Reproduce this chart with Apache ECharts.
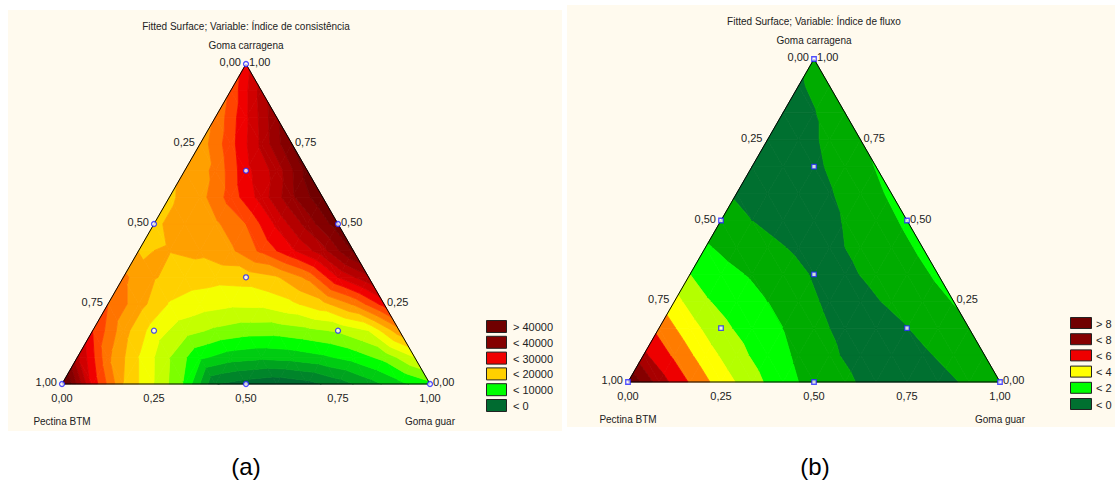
<!DOCTYPE html>
<html>
<head>
<meta charset="utf-8">
<script src="https://cdn.jsdelivr.net/npm/echarts@6/dist/echarts.min.js"></script>
<style>
html,body{margin:0;padding:0;background:#fff;}
#chart{width:1115px;height:483px;}
</style>
</head>
<body>
<div id="chart"></div>
<script>
// ---------------- DATA ----------------
const titleA = 'Fitted Surface; Variable: Índice de consistência';
const titleB = 'Fitted Surface; Variable: Índice de fluxo';
const topName = 'Goma carragena';
const leftName = 'Pectina BTM';
const rightName = 'Goma guar';
const captions = ['(a)', '(b)'];

const tickValues = [0, 0.25, 0.5, 0.75, 1];
const tickLabels = ['0,00', '0,25', '0,50', '0,75', '1,00'];

// design points: [Goma guar, Goma carragena] fractions (Pectina = rest)
const designPoints = [
  [0, 0], [1, 0], [0, 1],
  [0.5, 0], [0, 0.5], [0.5, 0.5],
  [1/3, 1/3],
  [1/6, 1/6], [2/3, 1/6], [1/6, 2/3]
];

// contour levels
const levelsA = [0, 2500, 5000, 7500, 10000, 12500, 15000, 17500, 20000,
                 22500, 25000, 27500, 30000, 32500, 35000, 37500, 40000];
const levelsB = [0, 1, 2, 3, 4, 5, 6, 7, 8];

const legendLabelsA = ['> 40000', '< 40000', '< 30000', '< 20000', '< 10000', '< 0'];
const legendBandsA  = [17, 16, 12, 8, 4, 0];
const legendLabelsB = ['> 8', '< 8', '< 6', '< 4', '< 2', '< 0'];
const legendBandsB  = [9, 8, 6, 4, 2, 0];

// surface values on a 12-step ternary grid
// row j: Goma carragena = j/12 ; entry i: Goma guar = i/12
const surfaceA = [
  [45000, 29000, 20000, 15000, 9700, 100, -1200, -2000, -1000, 1200, 3800, 6700, 9300],
  [33000, 23000, 17500, 12600, 8000, 6200, 5600, 6000, 7000, 8500, 10800, 15000],
  [27500, 21000, 16300, 13500, 12000, 11100, 11000, 11800, 12800, 15000, 21500],
  [25000, 21000, 17300, 16200, 15500, 15600, 17000, 19200, 22800, 28500],
  [23000, 20200, 18700, 18300, 18500, 19700, 23000, 30000, 34500],
  [19900, 20100, 20600, 22000, 25500, 29500, 34000, 40500],
  [19600, 21000, 22000, 25000, 30500, 36000, 41500],
  [19600, 21500, 26000, 31000, 37000, 42000],
  [20500, 23000, 29200, 33500, 41000],
  [21000, 26500, 33000, 40200],
  [23000, 29500, 37000],
  [25500, 33500],
  [29000]
];

const surfaceB = [
  [9, 6.5, 4.9, 3.5, 2.4, 1.3, 0.7, 0.15, -0.3, -0.35, -0.2, 0.1, 0.5],
  [6.2, 4.8, 3.45, 2.35, 1.45, 0.85, 0.12, -0.25, -0.3, -0.1, 0.2, 0.65],
  [4.7, 3.4, 2.25, 1.55, 1.0, 0.15, -0.15, -0.25, -0.02, 0.3, 0.85],
  [3.3, 2.1, 1.5, 1.0, 0.2, -0.1, -0.15, 0.08, 0.35, 1.05],
  [2.0, 1.3, 0.9, 0.25, -0.05, -0.1, 0.12, 0.4, 1.2],
  [1.1, 0.65, 0.15, -0.1, -0.1, 0.1, 0.4, 1.25],
  [0.4, 0.0, -0.25, -0.15, 0.02, 0.35, 1.25],
  [-0.1, -0.3, -0.2, -0.05, 0.3, 1.2],
  [-0.3, -0.25, -0.1, 0.2, 1.05],
  [-0.35, -0.2, 0.1, 0.85],
  [-0.25, -0.05, 0.6],
  [-0.1, 0.35],
  [0.2]
];

// ---------------- STYLE ----------------
const colorsA = ['#006b30', '#00852a', '#00a31f', '#00cc12', '#00ff00', '#7cff00', '#c4ff00', '#f4ff00',
                 '#ffd000', '#ffa000', '#ff7400', '#ff4400', '#f00000', '#d00000', '#b40000', '#9a0000',
                 '#840000', '#700000'];
const colorsB = ['#007030', '#00ac00', '#00ff00', '#b4ff00', '#ffff00', '#ff7c00', '#ee0000', '#a80000',
                 '#850000', '#700000'];

const FONT = '"Liberation Sans", Arial, sans-serif';
const TXT = '#222';
const SQ = Math.sqrt(3) / 2;

function toXY(g, c) { return [g + c / 2, c * SQ]; }

const panels = [
  { title: titleA, surface: surfaceA, levels: levelsA, colors: colorsA,
    legendLabels: legendLabelsA, legendBands: legendBandsA,
    grid: { left: 62, top: 64, width: 368, height: 320 },
    bg: { x: 8, y: 10, w: 554, h: 421 },
    legend: { x: 486, y: 320, w: 20, h: 12, step: 15.8, tx: 513 },
    caption: captions[0], capX: 246, marker: 'circle', markerSize: 5 },
  { title: titleB, surface: surfaceB, levels: levelsB, colors: colorsB,
    legendLabels: legendLabelsB, legendBands: legendBandsB,
    grid: { left: 628, top: 59, width: 372, height: 323 },
    bg: { x: 567, y: 5, w: 548, h: 422 },
    legend: { x: 1070, y: 317, w: 21, h: 11, step: 16.2, tx: 1096 },
    caption: captions[1], capX: 815, marker: 'rect', markerSize: 4.5 }
];

function buildTris(surface) {
  const n = surface.length - 1;
  const tris = [];
  for (let j = 0; j < n; j++) {
    for (let i = 0; i < n - j; i++) {
      tris.push([[i, j], [i + 1, j], [i, j + 1]]);
      if (i + j <= n - 2) tris.push([[i + 1, j], [i + 1, j + 1], [i, j + 1]]);
    }
  }
  return tris;
}

function clipPoly(poly, t, keepAbove) {
  const out = [];
  const inside = q => keepAbove ? q.v >= t : q.v <= t;
  for (let k = 0; k < poly.length; k++) {
    const a = poly[k], b = poly[(k + 1) % poly.length];
    const ia = inside(a), ib = inside(b);
    if (ia) out.push(a);
    if (ia !== ib) {
      const f = (t - a.v) / (b.v - a.v);
      out.push({ x: a.x + f * (b.x - a.x), y: a.y + f * (b.y - a.y), v: t });
    }
  }
  return out;
}

function contourRender(panel, tris) {
  const n = panel.surface.length - 1;
  const L = panel.levels;
  return function (params, api) {
    const tri = tris[params.dataIndex];
    const verts = tri.map(([i, j]) => {
      const p = toXY(i / n, j / n);
      return { x: p[0], y: p[1], v: panel.surface[j][i] };
    });
    const vs = verts.map(q => q.v);
    const vmin = Math.min.apply(null, vs), vmax = Math.max.apply(null, vs);
    const children = [];
    for (let b = 0; b <= L.length; b++) {
      const lo = b === 0 ? -Infinity : L[b - 1];
      const hi = b === L.length ? Infinity : L[b];
      if (vmax < lo || vmin >= hi) continue;
      let poly = verts;
      if (lo > -Infinity) poly = clipPoly(poly, lo, true);
      if (poly.length >= 3 && hi < Infinity) poly = clipPoly(poly, hi, false);
      if (poly.length < 3) continue;
      const pts = poly.map(q => api.coord([q.x, q.y]));
      children.push({ type: 'polygon', shape: { points: pts },
        style: { fill: panel.colors[b], stroke: panel.colors[b], lineWidth: 0.8 } });
    }
    return { type: 'group', children: children };
  };
}

function txt(x, y, text, align, size, vAlign) {
  return { type: 'text', x: x, y: y, silent: true,
    style: { text: text, fill: TXT, font: size + 'px ' + FONT,
      align: align, textAlign: align, verticalAlign: vAlign || 'middle', textVerticalAlign: vAlign || 'middle' } };
}

function labelRender(panel) {
  return function (params, api) {
    const ch = [];
    tickValues.forEach((t, k) => {
      // bottom axis: Goma guar
      let p = api.coord(toXY(t, 0));
      ch.push(txt(p[0], p[1] + 14, tickLabels[k], 'center', 11));
      // left edge: Pectina BTM
      p = api.coord(toXY(0, 1 - t));
      ch.push(txt(p[0] - 5, p[1] - 2, tickLabels[k], 'right', 11));
      // right edge: Goma carragena
      p = api.coord(toXY(1 - t, t));
      ch.push(txt(p[0] + 3, p[1] - 2, tickLabels[k], 'left', 11));
    });
    const top = api.coord(toXY(0, 1));
    const lft = api.coord(toXY(0, 0));
    const rgt = api.coord(toXY(1, 0));
    ch.push(txt(top[0], top[1] - 19, topName, 'center', 10));
    ch.push(txt(top[0], top[1] - 38, panel.title, 'center', 10));
    ch.push(txt(lft[0], lft[1] + 37, leftName, 'center', 10));
    ch.push(txt(rgt[0], rgt[1] + 37, rightName, 'center', 10));
    return { type: 'group', children: ch };
  };
}

const grid = [], xAxis = [], yAxis = [], series = [], graphic = [];
panels.forEach((panel, k) => {
  grid.push(Object.assign({ containLabel: false }, panel.grid));
  xAxis.push({ gridIndex: k, type: 'value', min: 0, max: 1, show: false });
  yAxis.push({ gridIndex: k, type: 'value', min: 0, max: SQ, show: false });
  const tris = buildTris(panel.surface);
  const n = panel.surface.length - 1;
  series.push({
    type: 'custom', xAxisIndex: k, yAxisIndex: k, silent: true, clip: false, z: 1,
    renderItem: contourRender(panel, tris),
    data: tris.map(t => {
      const g = (t[0][0] + t[1][0] + t[2][0]) / 3 / n, c = (t[0][1] + t[1][1] + t[2][1]) / 3 / n;
      return toXY(g, c);
    })
  });
  series.push({
    type: 'line', xAxisIndex: k, yAxisIndex: k, silent: true, clip: false, z: 3,
    symbol: 'none', lineStyle: { color: '#000', width: 1 },
    data: [toXY(0, 0), toXY(1, 0), toXY(0, 1), toXY(0, 0)]
  });
  series.push({
    type: 'scatter', xAxisIndex: k, yAxisIndex: k, silent: true, clip: false, z: 4,
    symbol: panel.marker, symbolSize: panel.markerSize,
    itemStyle: { color: '#ffffff', borderColor: '#2424ff', borderWidth: 1.3 },
    data: designPoints.map(d => toXY(d[0], d[1]))
  });
  series.push({
    type: 'custom', xAxisIndex: k, yAxisIndex: k, silent: true, clip: false, z: 5,
    renderItem: labelRender(panel), data: [[0, 0]]
  });
  // panel background
  graphic.push({ type: 'rect', z: -100, silent: true,
    shape: { x: panel.bg.x, y: panel.bg.y, width: panel.bg.w, height: panel.bg.h },
    style: { fill: '#fffaee' } });
  // legend
  const lg = panel.legend;
  panel.legendLabels.forEach((lab, r) => {
    const y = lg.y + r * lg.step;
    graphic.push({ type: 'rect', z: 50, silent: true,
      shape: { x: lg.x + 0.5, y: y + 0.5, width: lg.w, height: lg.h },
      style: { fill: panel.colors[panel.legendBands[r]], stroke: '#222', lineWidth: 1 } });
    graphic.push({ type: 'text', z: 50, silent: true, x: lg.tx, y: y + lg.h / 2 + 1,
      style: { text: lab, fill: TXT, font: '11px ' + FONT, align: 'left', textAlign: 'left',
        verticalAlign: 'middle', textVerticalAlign: 'middle' } });
  });
  // caption
  graphic.push({ type: 'text', z: 50, silent: true, x: panel.capX, y: 466,
    style: { text: panel.caption, fill: '#000', font: '24px ' + FONT, align: 'center', textAlign: 'center',
      verticalAlign: 'middle', textVerticalAlign: 'middle' } });
});

const chart = echarts.init(document.getElementById('chart'), null, { renderer: 'svg' });
chart.setOption({
  backgroundColor: '#ffffff',
  animation: false,
  grid: grid, xAxis: xAxis, yAxis: yAxis,
  series: series,
  graphic: { elements: graphic }
});
</script>
</body>
</html>
